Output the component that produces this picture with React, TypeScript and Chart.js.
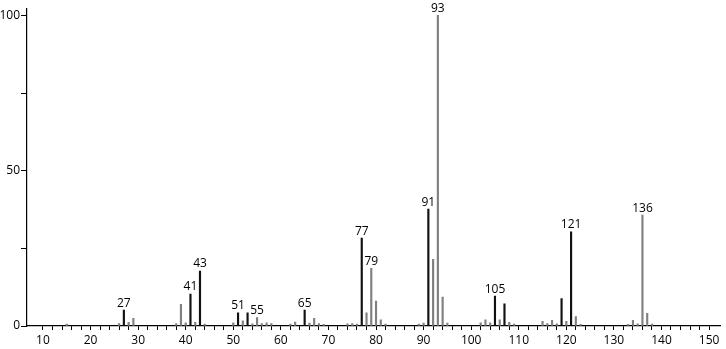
import React, { useEffect, useRef } from "react";
import { Chart, registerables } from "chart.js";
Chart.register(...registerables);

const masses = [15, 26, 27, 28, 29, 38, 39, 40, 41, 42, 43, 44, 50, 51, 52, 53, 54, 55, 56, 57, 58, 62, 63, 65, 66, 67, 68, 69, 74, 75, 76, 77, 78, 79, 80, 81, 82, 89, 90, 91, 92, 93, 94, 95, 102, 103, 104, 105, 106, 107, 108, 109, 115, 116, 117, 118, 119, 120, 121, 122, 123, 133, 134, 135, 136, 137, 138];
const intensities = [0.6, 0.8, 5.1, 1.2, 2.5, 0.8, 7.0, 1.0, 10.3, 1.2, 17.7, 0.6, 1.0, 4.2, 1.7, 4.2, 0.7, 2.7, 0.8, 1.0, 0.8, 0.6, 1.3, 5.1, 0.9, 2.5, 0.8, 0.5, 0.7, 0.8, 0.6, 28.3, 4.2, 18.6, 8.0, 2.0, 0.6, 0.6, 0.9, 37.6, 21.5, 100, 9.3, 0.9, 1.0, 2.0, 1.0, 9.6, 2.0, 7.1, 1.2, 0.6, 1.5, 0.8, 1.8, 0.7, 8.8, 1.5, 30.3, 3.0, 0.5, 0.5, 1.8, 0.7, 35.7, 4.1, 0.6];
const labeledPeaks = [27, 41, 43, 51, 55, 65, 77, 79, 91, 93, 105, 121, 136];
const darkPeaks = [27, 41, 43, 51, 53, 65, 77, 91, 105, 107, 119, 121];
const xTickLabels = [10, 20, 30, 40, 50, 60, 70, 80, 90, 100, 110, 120, 130, 140, 150];
const yTickLabels = [0, 50, 100];

const FONT = "'Open Sans', 'DejaVu Sans', sans-serif";

const peakLabelPlugin = {
  id: "peakLabels",
  afterDatasetsDraw(chart: any) {
    const { ctx, scales } = chart;
    ctx.save();
    ctx.font = `12px ${FONT}`;
    ctx.fillStyle = "#000";
    ctx.textAlign = "center";
    ctx.textBaseline = "bottom";
    labeledPeaks.forEach((m) => {
      const i = masses.indexOf(m);
      if (i < 0) return;
      const x = scales.x.getPixelForValue(m);
      const y = scales.y.getPixelForValue(intensities[i]);
      ctx.fillText(String(m), x, y - 1);
    });
    ctx.restore();
  },
};

export default function App() {
  const ref = useRef<HTMLCanvasElement>(null);
  useEffect(() => {
    document.body.style.margin = "0";
    const chart = new Chart(ref.current!, {
      type: "bar",
      data: {
        datasets: [
          {
            data: masses.map((m, i) => ({ x: m, y: intensities[i] })),
            backgroundColor: masses.map((m) => (darkPeaks.includes(m) ? "#111" : "#808080")),
            barThickness: 1.5,
            borderWidth: 0,
          },
        ],
      },
      options: {
        animation: false,
        responsive: false,
        devicePixelRatio: 1,
        layout: { autoPadding: false, padding: { top: 8, right: 6, left: 0, bottom: 0 } },
        plugins: { legend: { display: false }, tooltip: { enabled: false } },
        scales: {
          x: {
            type: "linear",
            offset: false,
            min: 6.64,
            max: 152.3,
            afterBuildTicks: (s: any) => {
              const t = [];
              for (let v = 10; v <= 150; v += 2) t.push({ value: v });
              s.ticks = t;
            },
            afterFit: (s: any) => {
              s.height = 23;
            },
            ticks: {
              autoSkip: false,
              maxRotation: 0,
              padding: 3,
              color: "#000",
              font: { family: FONT, size: 12 },
              callback: (v: any) => (xTickLabels.includes(Number(v)) ? String(v) : ""),
            },
            grid: {
              drawOnChartArea: false,
              offset: false,
              tickLength: 4,
              tickColor: "#000",
              tickWidth: 1,
            },
            border: { color: "#000", width: 1.2 },
          },
          y: {
            min: 0,
            max: 102.3,
            afterBuildTicks: (s: any) => {
              s.ticks = [0, 25, 50, 75, 100].map((v) => ({ value: v }));
            },
            afterFit: (s: any) => {
              s.width = 27;
            },
            ticks: {
              padding: 1,
              color: "#000",
              font: { family: FONT, size: 12 },
              callback: (v: any) => (yTickLabels.includes(Number(v)) ? String(v) : ""),
            },
            grid: {
              drawOnChartArea: false,
              tickLength: 6,
              tickColor: "#000",
            },
            border: { color: "#000", width: 1.2 },
          },
        },
      },
      plugins: [peakLabelPlugin],
    } as any);
    return () => chart.destroy();
  }, []);
  return <canvas ref={ref} width={726} height={349} />;
}
